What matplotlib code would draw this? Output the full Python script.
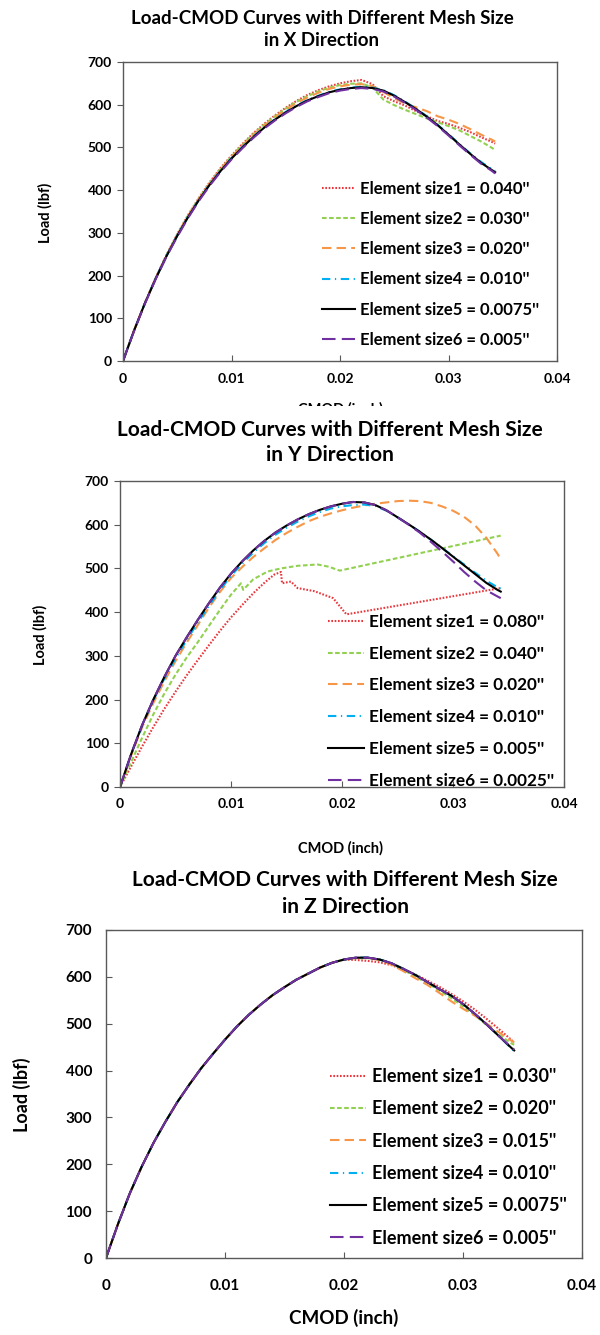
#!/usr/bin/env python3
"""Load-CMOD curves from the mesh-size study in X, Y and Z directions."""

import matplotlib
matplotlib.use("Agg")
import matplotlib.pyplot as plt
from matplotlib.patches import Rectangle

W, H = 600, 1335
FONT = ["Lato", "DejaVu Sans"]

X_TICKS = [0, 0.01, 0.02, 0.03, 0.04]
X_TICK_LABELS = ["0", "0.01", "0.02", "0.03", "0.04"]
Y_TICKS = [0, 100, 200, 300, 400, 500, 600, 700]

COLORS = ["#E8383D", "#92D050", "#F79646", "#00B0F0", "#000000", "#7030A0"]
STYLES = [(0, (0.8, 0.8)), (0, (2.2, 1.2)), (0, (4.5, 2.5)),
          (0, (4, 2.2, 0.6, 2.2)), "-", (0, (6.5, 3))]

# CMOD readings shared by most curves (inch)
CMOD = [0, 0.001, 0.002, 0.003, 0.004, 0.005, 0.006, 0.007, 0.008, 0.009,
        0.010, 0.011, 0.012, 0.013, 0.014, 0.015, 0.016, 0.017, 0.018, 0.019,
        0.020, 0.021, 0.022, 0.023, 0.024, 0.025, 0.026, 0.027, 0.028, 0.029,
        0.030, 0.031, 0.032, 0.033, 0.034, 0.0343]

# ---- X direction (load in lbf)
X_LABELS = ["Element size1 = 0.040''", "Element size2 = 0.030''",
            "Element size3 = 0.020''", "Element size4 = 0.010''",
            "Element size5 = 0.0075''", "Element size6 = 0.005''"]
X_LOAD_1 = [0, 70, 135, 194, 248, 297, 342, 382, 419, 452, 481, 508, 533, 555, 575, 593, 609, 623,
            634, 643, 650, 655, 658, 648, 620, 608, 598, 585, 573, 562, 555, 546, 536, 524, 513, 509]
X_LOAD_2 = [0, 70, 135, 193, 247, 296, 341, 381, 417, 450, 479, 506, 531, 553, 573, 591, 607, 620,
            631, 640, 646, 649, 650, 640, 612, 599, 588, 578, 568, 559, 550, 540, 527, 514, 499, 494]
X_LOAD_3 = [0, 70, 134, 193, 247, 295, 340, 380, 416, 449, 478, 504, 529, 551, 571, 588, 604, 617,
            628, 637, 643, 647, 648, 644, 630, 615, 603, 594, 585, 573, 565, 555, 543, 530, 518, 514]
X_LOAD_4 = [0, 70, 134, 193, 246, 294, 338, 378, 414, 446, 475, 501, 525, 547, 566, 583, 598, 611,
            621, 630, 636, 640, 642, 640, 634, 622, 607, 591, 573, 553, 531, 508, 486, 466, 449, 445]
X_LOAD_5 = [0, 70, 134, 192, 245, 293, 337, 377, 413, 445, 474, 500, 524, 546, 565, 582, 597, 610,
            620, 629, 635, 639, 641, 639, 633, 621, 606, 590, 572, 552, 530, 507, 485, 464, 447, 442]
X_LOAD_6 = [0, 69, 133, 191, 244, 291, 335, 375, 411, 443, 472, 498, 522, 544, 563, 580, 595, 608,
            618, 627, 633, 637, 639, 637, 631, 619, 604, 588, 570, 550, 528, 505, 483, 462, 445, 439]

# ---- Y direction
Y_LABELS = ["Element size1 = 0.080''", "Element size2 = 0.040''",
            "Element size3 = 0.020''", "Element size4 = 0.010''",
            "Element size5 = 0.005''", "Element size6 = 0.0025''"]
Y_CMOD_1 = [0, 0.001, 0.002, 0.003, 0.004, 0.005, 0.006, 0.007, 0.008, 0.009, 0.010, 0.011,
            0.012, 0.013, 0.0139, 0.0145, 0.0146, 0.0150, 0.0154, 0.0160, 0.0175, 0.0192,
            0.0204, 0.0343]
Y_LOAD_1 = [0, 47, 93, 137, 179, 218, 255, 290, 324, 357, 388, 416, 443, 467, 486, 492, 466,
            468, 470, 455, 448, 432, 395, 455]
Y_CMOD_2 = [0, 0.001, 0.002, 0.003, 0.004, 0.005, 0.006, 0.007, 0.008, 0.009, 0.010, 0.0109,
            0.0111, 0.0120, 0.0133, 0.0145, 0.0160, 0.0178, 0.0188, 0.0198, 0.0343]
Y_LOAD_2 = [0, 57, 113, 166, 214, 257, 296, 331, 368, 405, 440, 466, 451, 475, 493, 500, 506,
            509, 504, 495, 575]
Y_LOAD_3 = [0, 72, 137, 192, 242, 288, 330, 370, 410, 446, 478, 503, 526, 546, 565, 581, 595, 608,
            618, 626, 633, 639, 644, 648, 651, 654, 655, 654, 650, 642, 632, 618, 598, 570, 534, 521]
Y_LOAD_4 = [0, 75, 141, 198, 248, 294, 336, 376, 414, 450, 483, 511, 536, 558, 577, 593, 607, 619,
            629, 637, 642, 645, 646, 643, 632, 617, 601, 584, 566, 547, 528, 509, 490, 472, 457, 454]
Y_LOAD_5 = [0, 75, 142, 200, 252, 300, 342, 382, 420, 456, 488, 516, 541, 563, 582, 598, 612, 624,
            634, 642, 648, 652, 651, 645, 633, 617, 601, 584, 566, 547, 527, 507, 487, 467, 451, 447]
Y_LOAD_6 = [0, 75, 142, 200, 252, 300, 342, 382, 420, 456, 488, 516, 541, 563, 582, 598, 612, 624,
            634, 642, 648, 652, 651, 645, 633, 617, 600, 582, 561, 539, 516, 492, 470, 450, 436, 432]

# ---- Z direction
Z_LABELS = ["Element size1 = 0.030''", "Element size2 = 0.020''",
            "Element size3 = 0.015''", "Element size4 = 0.010''",
            "Element size5 = 0.0075''", "Element size6 = 0.005''"]
Z_LOAD_1 = [0, 72, 138, 195, 246, 291, 333, 370, 405, 436, 466, 494, 519, 541, 561, 578, 594, 607,
            620, 630, 637, 636, 634, 631, 625, 615, 605, 592, 579, 564, 548, 530, 510, 489, 467, 460]
Z_LOAD_2 = [0, 72, 138, 195, 246, 291, 333, 370, 405, 436, 466, 494, 519, 541, 561, 578, 594, 607,
            620, 630, 637, 640, 640, 637, 628, 615, 600, 587, 571, 555, 537, 518, 497, 477, 459, 455]
Z_LOAD_3 = [0, 72, 138, 195, 246, 291, 333, 370, 405, 436, 466, 494, 519, 541, 561, 578, 594, 607,
            620, 630, 637, 640, 640, 636, 626, 612, 597, 583, 566, 548, 532, 517, 500, 482, 465, 460]
Z_LOAD_4 = [0, 72, 138, 195, 246, 291, 333, 370, 405, 436, 466, 494, 519, 541, 561, 578, 594, 607,
            620, 630, 637, 641, 641, 637, 629, 617, 604, 589, 574, 560, 542, 521, 498, 474, 449, 441]
Z_LOAD_5 = [0, 72, 138, 195, 246, 291, 333, 370, 405, 436, 466, 494, 519, 541, 561, 578, 594, 607,
            620, 630, 637, 641, 641, 637, 629, 617, 604, 589, 574, 560, 542, 521, 498, 474, 450, 443]
Z_LOAD_6 = [0, 72, 138, 195, 246, 291, 333, 370, 405, 436, 466, 494, 519, 541, 561, 578, 594, 607,
            620, 630, 637, 641, 641, 637, 629, 617, 604, 589, 574, 560, 542, 521, 498, 474, 451, 445]


def fig_box(l, t, r, b):
    return [l / W, 1 - b / H, (r - l) / W, (b - t) / H]


def fx(px):
    return px / W


def fy(py):
    return 1 - py / H


def draw_panel(fig, curves, labels, direction, lay):
    ax = fig.add_axes(fig_box(*lay["box"]))
    for i, (x, y) in enumerate(curves):
        ax.plot(x, y, color=COLORS[i], linestyle=STYLES[i], lw=1.5, label=labels[i])
    ax.set_xlim(0, 0.04)
    ax.set_ylim(0, 700)
    ax.set_xticks(X_TICKS)
    ax.set_xticklabels(X_TICK_LABELS)
    ax.set_yticks(Y_TICKS)
    for sp in ax.spines.values():
        sp.set_color("#595959")
        sp.set_linewidth(1.0)
    ax.tick_params(axis="x", direction="in", length=4, color="#595959",
                   pad=lay["xpad"], labelsize=lay["tick_fs"])
    ax.tick_params(axis="y", direction=lay["ydir"], length=4, color="#595959",
                   pad=lay["ypad"], labelsize=lay["tick_fs"])
    for t in ax.get_xticklabels() + ax.get_yticklabels():
        t.set_fontfamily(FONT)
        t.set_fontweight("bold")

    ax.legend(loc="upper left", bbox_to_anchor=(fx(lay["leg"][0]), fy(lay["leg"][1])),
              bbox_transform=fig.transFigure, frameon=False, borderpad=0,
              borderaxespad=0, handlelength=lay["hlen"], handletextpad=0.3,
              labelspacing=lay["lspace"],
              prop={"family": FONT, "weight": "bold", "size": lay["leg_fs"]})

    cx, y1, y2 = lay["title"]
    fig.text(fx(cx), fy(y1), "Load-CMOD Curves with Different Mesh Size", ha="center",
             va="center", family=FONT, weight="bold", size=lay["title_fs"], zorder=5)
    fig.text(fx(cx), fy(y2), f"in {direction} Direction", ha="center", va="center",
             family=FONT, weight="bold", size=lay["title_fs"], zorder=5)
    yx, yy = lay["ylabel"]
    fig.text(fx(yx), fy(yy), "Load (lbf)", rotation=90, ha="center", va="center",
             family=FONT, weight="bold", size=lay["ylabel_fs"])
    lx, ly = lay["xlabel"]
    fig.text(fx(lx), fy(ly), "CMOD (inch)", ha="center", va="center",
             family=FONT, weight="bold", size=lay["xlabel_fs"], zorder=3)
    return ax


def main():
    fig = plt.figure(figsize=(W / 100, H / 100), dpi=100)
    fig.patch.set_facecolor("white")

    x_curves = [(CMOD, X_LOAD_1), (CMOD, X_LOAD_2), (CMOD, X_LOAD_3),
                (CMOD, X_LOAD_4), (CMOD, X_LOAD_5), (CMOD, X_LOAD_6)]
    draw_panel(fig, x_curves, X_LABELS, "X", dict(
        box=(123, 62, 557, 361), xpad=9, ydir="out", ypad=4, tick_fs=10,
        leg=(322, 181), hlen=2.0, lspace=0.85, leg_fs=12,
        title=(322, 18, 40), title_fs=13.5, ylabel=(45, 213), xlabel=(341, 409),
        ylabel_fs=10.5, xlabel_fs=10.5))

    y_curves = [(Y_CMOD_1, Y_LOAD_1), (Y_CMOD_2, Y_LOAD_2), (CMOD, Y_LOAD_3),
                (CMOD, Y_LOAD_4), (CMOD, Y_LOAD_5), (CMOD, Y_LOAD_6)]
    draw_panel(fig, y_curves, Y_LABELS, "Y", dict(
        box=(120, 481, 564, 787), xpad=8, ydir="out", ypad=4, tick_fs=10,
        leg=(328, 614), hlen=2.1, lspace=0.92, leg_fs=12.3,
        title=(330, 430, 455), title_fs=15, ylabel=(40, 635), xlabel=(341, 848),
        ylabel_fs=10.5, xlabel_fs=10.5))

    z_curves = [(CMOD, Z_LOAD_1), (CMOD, Z_LOAD_2), (CMOD, Z_LOAD_3),
                (CMOD, Z_LOAD_4), (CMOD, Z_LOAD_5), (CMOD, Z_LOAD_6)]
    draw_panel(fig, z_curves, Z_LABELS, "Z", dict(
        box=(106, 930, 582, 1258), xpad=15, ydir="in", ypad=10, tick_fs=11,
        leg=(330, 1068), hlen=2.0, lspace=0.85, leg_fs=13,
        title=(345, 880, 907), title_fs=15, ylabel=(22, 1095), xlabel=(344, 1318),
        ylabel_fs=13, xlabel_fs=13.5))

    # the Y-direction chart was pasted over the bottom of the X-direction x label
    fig.add_artist(Rectangle((0, fy(420)), 1, fy(406) - fy(420), transform=fig.transFigure,
                             facecolor="white", edgecolor="none", zorder=4))

    fig.savefig("out.png", dpi=100)
    plt.close(fig)


if __name__ == "__main__":
    main()
